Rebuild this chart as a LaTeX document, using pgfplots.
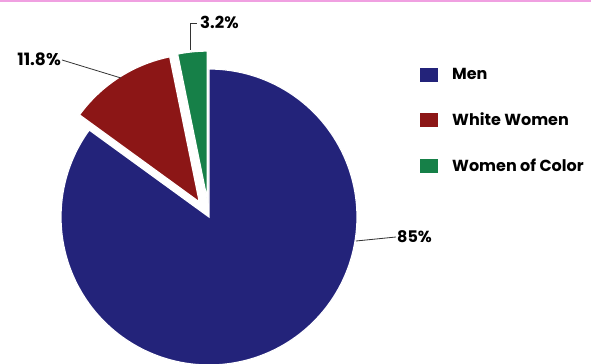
\documentclass[border=0pt]{standalone}
\usepackage{pgfplots}
\pgfplotsset{compat=1.18}
\usepackage{fontspec}
\setmainfont{Poppins}
\definecolor{menblue}{RGB}{35,35,122}
\definecolor{wwred}{RGB}{140,22,22}
\definecolor{wcgreen}{RGB}{22,128,72}
\definecolor{toppink}{RGB}{240,160,225}
% shares (percent)
\def\pMen{85}
\def\pWW{11.8}
\def\pWC{3.2}
\pgfmathsetmacro\aGs{90}
\pgfmathsetmacro\aGe{90+3.6*\pWC}
\pgfmathsetmacro\aRe{\aGe+3.6*\pWW}
\pgfmathsetmacro\aBe{\aRe+3.6*\pMen}
\pgfmathsetmacro\mR{(\aGe+\aRe)/2}
\pgfmathsetmacro\mG{(\aGs+\aGe)/2}
\def\cx{209}\def\cy{147}\def\rr{148}\def\ex{18}
\pgfmathsetmacro\rcx{\cx+\ex*cos(\mR)}
\pgfmathsetmacro\rcy{\cy+\ex*sin(\mR)}
\pgfmathsetmacro\gcx{\cx+\ex*cos(\mG)}
\pgfmathsetmacro\gcy{\cy+\ex*sin(\mG)}
\begin{document}
\begin{tikzpicture}
\useasboundingbox (0,0) rectangle (591bp,364bp);
\clip (0,0) rectangle (591bp,364bp);
\begin{axis}[at={(0,0)}, anchor=south west, x=1bp, y=1bp,
  xmin=0, xmax=591, ymin=0, ymax=364, hide axis, clip=false,
  legend style={at={(420/591,298/364)}, anchor=north west, draw=none, fill=none,
    font=\fontsize{16bp}{18bp}\selectfont\bfseries, row sep=28bp, inner sep=0pt,
    /tikz/every odd column/.append style={column sep=12bp}},
  legend cell align=left,
  legend image code/.code={\path[#1,draw=none] (0bp,-7bp) rectangle (18bp,7bp);},
  every axis plot/.append style={draw=white, line width=1.2bp, samples=150, variable=\t},
]
\addplot[fill=menblue, domain=\aRe:\aBe] ({\cx+\rr*cos(\t)},{\cy+\rr*sin(\t)}) -- (axis cs:\cx,\cy) -- cycle;
\addlegendentry{Men}
\addplot[fill=wwred, domain=\aGe:\aRe] ({\rcx+\rr*cos(\t)},{\rcy+\rr*sin(\t)}) -- (axis cs:\rcx,\rcy) -- cycle;
\addlegendentry{White Women}
\addplot[fill=wcgreen, domain=\aGs:\aGe] ({\gcx+\rr*cos(\t)},{\gcy+\rr*sin(\t)}) -- (axis cs:\gcx,\gcy) -- cycle;
\addlegendentry{Women of Color}
% leaders and labels
\draw[black!80, line width=0.8bp] (axis cs:190,314) -- (axis cs:190,341) -- (axis cs:197,341);
\node[anchor=west, inner sep=0pt, font=\fontsize{16.5bp}{18bp}\selectfont\bfseries] at (axis cs:200,342) {3.2\%};
\draw[black!80, line width=0.8bp] (axis cs:121,286) -- (axis cs:62,304);
\node[anchor=east, inner sep=0pt, font=\fontsize{17bp}{18bp}\selectfont\bfseries] at (axis cs:61,305) {11.8\%};
\draw[black!80, line width=0.8bp] (axis cs:356,123) -- (axis cs:396,127);
\node[anchor=west, inner sep=0pt, font=\fontsize{16bp}{18bp}\selectfont\bfseries] at (axis cs:397,127) {85\%};
\draw[toppink, line width=2.5bp] (axis cs:0,363.5) -- (axis cs:591,363.5);
\end{axis}
\end{tikzpicture}
\end{document}
